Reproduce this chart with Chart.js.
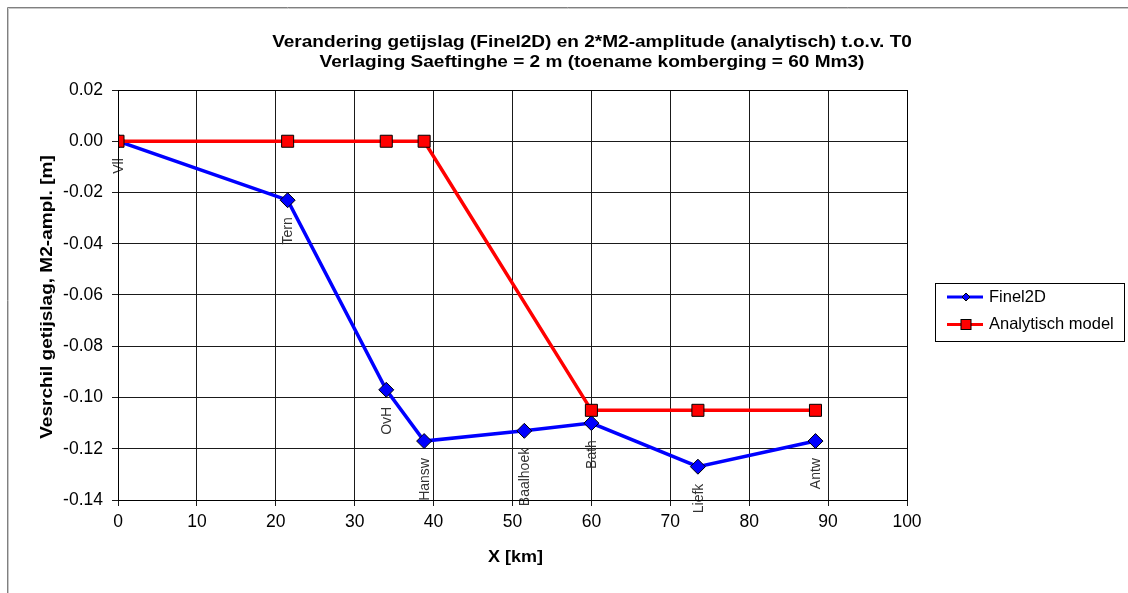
<!DOCTYPE html>
<html>
<head>
<meta charset="utf-8">
<script src="https://cdn.jsdelivr.net/npm/chart.js@4.4.1/dist/chart.umd.min.js"></script>
<style>
html,body{margin:0;padding:0;background:#fff;}
#wrap{position:relative;width:1128px;height:593px;}
</style>
</head>
<body>
<div id="wrap"><canvas id="c" width="1128" height="593"></canvas></div>
<script>
// ---- data ----
const stations = ["Vll", "Tern", "OvH", "Hansw", "Baalhoek", "Bath", "Liefk", "Antw"];
const stationKm = [0, 21.5, 34, 38.8, 51.5, 60, 73.5, 88.4];
const finel2D = [0, -0.023, -0.097, -0.117, -0.113, -0.110, -0.127, -0.117];
const analytKm = [0, 21.5, 34, 38.8, 60, 73.5, 88.4];
const analytisch = [0, 0, 0, 0, -0.105, -0.105, -0.105];
const xTicks = [0, 10, 20, 30, 40, 50, 60, 70, 80, 90, 100];
const yTicks = [0.02, 0.00, -0.02, -0.04, -0.06, -0.08, -0.10, -0.12, -0.14];
const titleLines = ["Verandering getijslag (Finel2D) en 2*M2-amplitude (analytisch) t.o.v. T0",
                    "Verlaging Saeftinghe = 2 m (toename komberging = 60 Mm3)"];
const seriesNames = ["Finel2D", "Analytisch model"];
const xTitle = "X [km]";
const yTitle = "Vesrchil getijslag, M2-ampl. [m]";

const FONT = "'Liberation Sans', Arial, sans-serif";

function stretchText(ctx, text, x, y, sx) {
  ctx.save();
  ctx.translate(x, y);
  ctx.scale(sx, 1);
  ctx.fillText(text, 0, 0);
  ctx.restore();
}

const decor = {
  id: 'decor',
  beforeDraw(chart) {
    const ctx = chart.ctx;
    ctx.save();
    ctx.fillStyle = '#fff';
    ctx.fillRect(0, 0, chart.width, chart.height);
    ctx.strokeStyle = '#808080';
    ctx.lineWidth = 1;
    ctx.beginPath();
    ctx.moveTo(7.5, 593); ctx.lineTo(7.5, 7.5); ctx.lineTo(1128, 7.5);
    ctx.stroke();
    ctx.strokeStyle = '#c8c8c8';
    ctx.beginPath();
    ctx.moveTo(8.5, 593); ctx.lineTo(8.5, 8.5); ctx.lineTo(1128, 8.5);
    ctx.stroke();
    ctx.restore();
  },
  afterDatasetsDraw(chart) {
    const ctx = chart.ctx;
    const xs = chart.scales.x, ys = chart.scales.y;
    ctx.save();
    // station labels
    ctx.font = "14px " + FONT;
    ctx.fillStyle = '#333';
    ctx.textAlign = 'right';
    ctx.textBaseline = 'middle';
    const meta = chart.getDatasetMeta(0);
    stations.forEach((s, i) => {
      const p = meta.data[i];
      ctx.save();
      ctx.translate(p.x + 1, p.y + 17);
      ctx.rotate(-Math.PI / 2);
      ctx.fillText(s, 0, 0);
      ctx.restore();
    });
    // title
    ctx.fillStyle = '#000';
    ctx.textAlign = 'center';
    ctx.textBaseline = 'middle';
    ctx.font = "bold 17px " + FONT;
    stretchText(ctx, titleLines[0], 592, 42, 1.12);
    stretchText(ctx, titleLines[1], 592, 62, 1.12);
    // axis titles
    ctx.font = "bold 17px " + FONT;
    stretchText(ctx, xTitle, (xs.left + xs.right) / 2 + 3, 557, 1.06);
    ctx.save();
    ctx.translate(47, (ys.top + ys.bottom) / 2 + 2);
    ctx.rotate(-Math.PI / 2);
    ctx.scale(1.12, 1);
    ctx.fillText(yTitle, 0, 0);
    ctx.restore();
    // legend
    const lx = 935.5, ly = 283.5, lw = 189, lh = 58;
    ctx.strokeStyle = '#000';
    ctx.lineWidth = 1;
    ctx.strokeRect(lx, ly, lw, lh);
    const rows = [ly + 13.5, ly + 41];
    const colors = ['#0000ff', '#ff0000'];
    rows.forEach((ry, i) => {
      ctx.strokeStyle = colors[i];
      ctx.lineWidth = 3;
      ctx.beginPath();
      ctx.moveTo(947, ry); ctx.lineTo(983, ry);
      ctx.stroke();
      ctx.fillStyle = colors[i];
      ctx.strokeStyle = '#000';
      ctx.lineWidth = 1;
      if (i === 0) {
        ctx.beginPath();
        ctx.moveTo(966, ry - 4); ctx.lineTo(970, ry); ctx.lineTo(966, ry + 4); ctx.lineTo(962, ry);
        ctx.closePath();
        ctx.fill(); ctx.stroke();
      } else {
        ctx.fillRect(961, ry - 5, 10, 10);
        ctx.strokeRect(961, ry - 5, 10, 10);
      }
      ctx.fillStyle = '#000';
      ctx.textAlign = 'left';
      ctx.font = "16.5px " + FONT;
      ctx.fillText(seriesNames[i], 989, ry);
    });
    ctx.restore();
  }
};

new Chart(document.getElementById('c'), {
  type: 'scatter',
  data: {
    datasets: [
      {
        label: seriesNames[0],
        data: stationKm.map((x, i) => ({ x, y: finel2D[i] })),
        showLine: true,
        borderColor: '#0000ff',
        borderWidth: 3.5,
        pointStyle: 'rectRot',
        pointRadius: 7.5,
        pointBackgroundColor: '#0000ff',
        pointBorderColor: '#000',
        pointBorderWidth: 1,
        order: 1
      },
      {
        label: seriesNames[1],
        data: analytKm.map((x, i) => ({ x, y: analytisch[i] })),
        showLine: true,
        borderColor: '#ff0000',
        borderWidth: 3.5,
        pointStyle: 'rect',
        pointRadius: 8.5,
        pointBackgroundColor: '#ff0000',
        pointBorderColor: '#000',
        pointBorderWidth: 1,
        order: 0
      }
    ]
  },
  options: {
    responsive: false,
    animation: false,
    events: [],
    layout: { padding: { left: 0, top: 90, right: 221, bottom: 0 } },
    plugins: { legend: { display: false }, title: { display: false }, tooltip: { enabled: false } },
    scales: {
      x: {
        type: 'linear',
        min: 0, max: 100,
        afterFit(s) { s.height = 93; },
        afterBuildTicks(s) { s.ticks = xTicks.map(v => ({ value: v })); },
        grid: { color: '#1a1a1a', lineWidth: 1, tickLength: 6, drawTicks: true },
        border: { color: '#000', width: 1 },
        ticks: { color: '#000', font: { family: FONT, size: 17.5 }, padding: 6, maxRotation: 0, callback: v => String(v) }
      },
      y: {
        type: 'linear',
        min: -0.14, max: 0.02,
        afterFit(s) { s.width = 118; },
        afterBuildTicks(s) { s.ticks = yTicks.map(v => ({ value: v })); },
        grid: { color: '#1a1a1a', lineWidth: 1, tickLength: 6 },
        border: { color: '#000', width: 1 },
        ticks: { color: '#000', font: { family: FONT, size: 17.5 }, padding: 9, callback: v => (Math.abs(v) < 1e-9 ? 0 : v).toFixed(2) }
      }
    }
  },
  plugins: [decor, {
    id: 'rightBorder',
    afterDraw(chart) {
      const a = chart.chartArea, ctx = chart.ctx;
      ctx.save();
      ctx.strokeStyle = '#000'; ctx.lineWidth = 1;
      ctx.strokeRect(Math.round(a.left) + 0.5, Math.round(a.top) + 0.5, Math.round(a.right - a.left), Math.round(a.bottom - a.top));
      ctx.restore();
    }
  }]
});
</script>
</body>
</html>
